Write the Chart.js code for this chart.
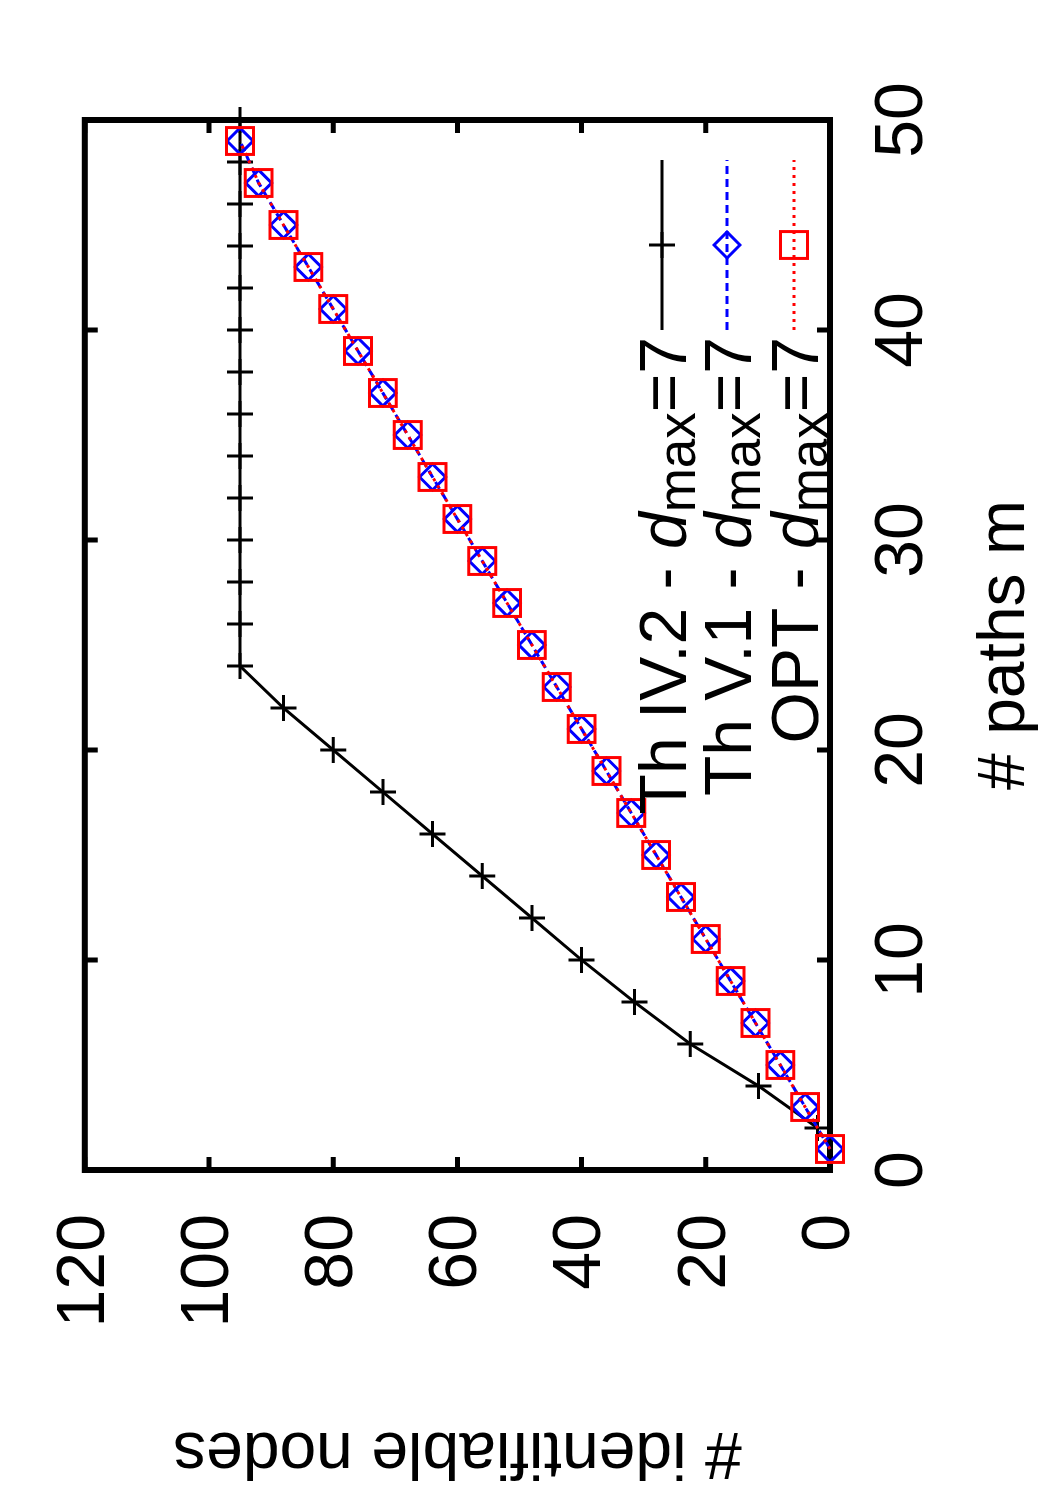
<!DOCTYPE html>
<html>
<head>
<meta charset="utf-8">
<script src="https://cdn.jsdelivr.net/npm/chart.js@4.4.1/dist/chart.umd.min.js"></script>
<style>
html, body { margin: 0; padding: 0; background: #fff; overflow: hidden; }
body { width: 1050px; height: 1500px; position: relative; }
/* the plot is drawn landscape and turned a quarter left, like the original figure */
#wrap { position: absolute; left: 0; top: 0; width: 1500px; height: 1050px;
        transform-origin: 0 0; transform: translateY(1500px) rotate(-90deg); }
</style>
</head>
<body>
<div id="wrap"><canvas id="chart" width="1500" height="1050"></canvas></div>
<script>
// x ticks (# paths m) and y ticks (# identifiable nodes)
const mTicks = [0, 10, 20, 30, 40, 50];
const nodeTicks = [0, 20, 40, 60, 80, 100, 120];

// Th IV.2 - d_max=7 (even m)
const mThIV2 = [2, 4, 6, 8, 10, 12, 14, 16, 18, 20, 22, 24, 26, 28, 30, 32, 34, 36, 38, 40, 42, 44, 46, 48, 50];
const nThIV2 = [2, 11.5, 22.5, 31.5, 40, 48, 56, 64, 72, 80, 88, 95, 95, 95, 95, 95, 95, 95, 95, 95, 95, 95, 95, 95, 95];

// Th V.1 and OPT (odd m)
const mOdd = [1, 3, 5, 7, 9, 11, 13, 15, 17, 19, 21, 23, 25, 27, 29, 31, 33, 35, 37, 39, 41, 43, 45, 47, 49];
const nThV1 = [0, 4, 8, 12, 16, 20, 24, 28, 32, 36, 40, 44, 48, 52, 56, 60, 64, 68, 72, 76, 80, 84, 88, 92, 95];
const nOPT  = [0, 4, 8, 12, 16, 20, 24, 28, 32, 36, 40, 44, 48, 52, 56, 60, 64, 68, 72, 76, 80, 84, 88, 92, 95];

const seriesNames = ['Th IV.2', 'Th V.1', 'OPT'];
const dmax = 7;

const FONT = "'Liberation Sans', Arial, Helvetica, sans-serif";

function toPoints(xs, ys) {
    return xs.map((x, i) => ({ x: x, y: ys[i] }));
}

function drawMarker(ctx, style, x, y, r, color) {
    ctx.save();
    ctx.strokeStyle = color;
    ctx.lineWidth = 3;
    ctx.setLineDash([]);
    ctx.beginPath();
    if (style === 'cross') {
        ctx.moveTo(x - r, y); ctx.lineTo(x + r, y);
        ctx.moveTo(x, y - r); ctx.lineTo(x, y + r);
    } else if (style === 'rectRot') {
        ctx.moveTo(x - r, y); ctx.lineTo(x, y - r);
        ctx.lineTo(x + r, y); ctx.lineTo(x, y + r);
        ctx.closePath();
    } else {
        const h = r * Math.SQRT1_2;
        ctx.rect(x - h, y - h, 2 * h, 2 * h);
    }
    ctx.stroke();
    ctx.restore();
}

// frame with inward ticks on all four sides (gnuplot style)
const framePlugin = {
    id: 'frame',
    beforeDatasetsDraw(chart) {
        const { ctx, chartArea: a, scales } = chart;
        const tl = 13;
        ctx.save();
        ctx.strokeStyle = '#000';
        ctx.lineWidth = 5;
        ctx.beginPath();
        mTicks.forEach(v => {
            const px = scales.x.getPixelForValue(v);
            ctx.moveTo(px, a.bottom); ctx.lineTo(px, a.bottom - tl);
            ctx.moveTo(px, a.top); ctx.lineTo(px, a.top + tl);
        });
        nodeTicks.forEach(v => {
            const py = scales.y.getPixelForValue(v);
            ctx.moveTo(a.left, py); ctx.lineTo(a.left + tl, py);
            ctx.moveTo(a.right, py); ctx.lineTo(a.right - tl, py);
        });
        ctx.stroke();
        ctx.lineWidth = 6;
        ctx.strokeRect(a.left, a.top, a.right - a.left, a.bottom - a.top);
        ctx.restore();
    }
};

// legend: text with italic d and subscript "max", then line sample with marker
const legendPlugin = {
    id: 'gpLegend',
    afterDraw(chart) {
        const { ctx, chartArea: a } = chart;
        const size = 66, sub = 53;
        const rows = [
            { name: seriesNames[0], color: '#000000', dash: [], style: 'cross', r: 13, dy: 168 },
            { name: seriesNames[1], color: '#0000ff', dash: [8, 5], style: 'rectRot', r: 13, dy: 103 },
            { name: seriesNames[2], color: '#ff0000', dash: [3, 5], style: 'rect', r: 19, dy: 36 }
        ];
        const textRight = a.right - 217;
        const s0 = a.right - 210, s1 = a.right - 40;
        rows.forEach(row => {
            const yl = a.bottom - row.dy;
            const base = yl + 24;
            const parts = [
                { t: row.name + ' - ', f: size + 'px ' + FONT, off: 0 },
                { t: 'd', f: 'italic ' + size + 'px ' + FONT, off: 0 },
                { t: 'max', f: sub + 'px ' + FONT, off: 9 },
                { t: '=' + dmax, f: size + 'px ' + FONT, off: 0 }
            ];
            ctx.save();
            ctx.fillStyle = '#000';
            ctx.textBaseline = 'alphabetic';
            ctx.textAlign = 'left';
            let total = 0;
            parts.forEach(p => { ctx.font = p.f; p.w = ctx.measureText(p.t).width; total += p.w; });
            let x = textRight - total;
            parts.forEach(p => { ctx.font = p.f; ctx.fillText(p.t, x, base + p.off); x += p.w; });
            ctx.strokeStyle = row.color;
            ctx.lineWidth = 3;
            ctx.setLineDash(row.dash);
            ctx.beginPath();
            ctx.moveTo(s0, yl); ctx.lineTo(s1, yl);
            ctx.stroke();
            ctx.restore();
            drawMarker(ctx, row.style, (s0 + s1) / 2, yl, row.r, row.color);
        });
    }
};

const config = {
    type: 'line',
    data: {
        datasets: [
            {
                label: seriesNames[2],
                data: toPoints(mOdd, nOPT),
                borderColor: '#ff0000',
                borderWidth: 3,
                borderDash: [3, 5],
                pointStyle: 'rect',
                pointRadius: 19,
                pointBorderWidth: 3,
                pointBorderColor: '#ff0000',
                pointBackgroundColor: 'rgba(0,0,0,0)',
                fill: false,
                tension: 0,
                clip: false
            },
            {
                label: seriesNames[1],
                data: toPoints(mOdd, nThV1),
                borderColor: '#0000ff',
                borderWidth: 3,
                borderDash: [8, 5],
                pointStyle: 'rectRot',
                pointRadius: 13,
                pointBorderWidth: 3,
                pointBorderColor: '#0000ff',
                pointBackgroundColor: 'rgba(0,0,0,0)',
                fill: false,
                tension: 0,
                clip: false
            },
            {
                label: seriesNames[0],
                data: toPoints(mThIV2, nThIV2),
                borderColor: '#000000',
                borderWidth: 3,
                pointStyle: 'cross',
                pointRadius: 13,
                pointBorderWidth: 3,
                pointBorderColor: '#000000',
                fill: false,
                tension: 0,
                clip: false
            }
        ]
    },
    options: {
        responsive: false,
        animation: false,
        devicePixelRatio: 1,
        layout: { padding: { top: 80, right: 120, left: 0, bottom: 0 } },
        plugins: {
            legend: { display: false },
            tooltip: { enabled: false }
        },
        scales: {
            x: {
                type: 'linear',
                min: 0,
                max: 50,
                afterBuildTicks: s => { s.ticks = mTicks.map(v => ({ value: v })); },
                afterFit: s => { s.height = 220; },
                grid: { display: false, drawTicks: false },
                border: { display: false },
                ticks: { color: '#000', font: { family: FONT, size: 68 }, padding: 32, maxRotation: 0 },
                title: { display: true, text: '# paths m', color: '#000', font: { family: FONT, size: 66 }, padding: { top: 0, bottom: 5 } }
            },
            y: {
                type: 'linear',
                min: 0,
                max: 120,
                afterBuildTicks: s => { s.ticks = nodeTicks.map(v => ({ value: v })); },
                afterFit: s => { s.width = 330; },
                grid: { display: false, drawTicks: false },
                border: { display: false },
                ticks: { color: '#000', font: { family: FONT, size: 68 }, padding: 44 },
                title: { display: true, text: '# identifiable nodes', color: '#000', font: { family: FONT, size: 66 }, padding: { top: 9, bottom: 0 } }
            }
        }
    },
    plugins: [framePlugin, legendPlugin]
};

window.onload = () => {
    const ctx = document.getElementById('chart').getContext('2d');
    new Chart(ctx, config);
};
</script>
</body>
</html>
